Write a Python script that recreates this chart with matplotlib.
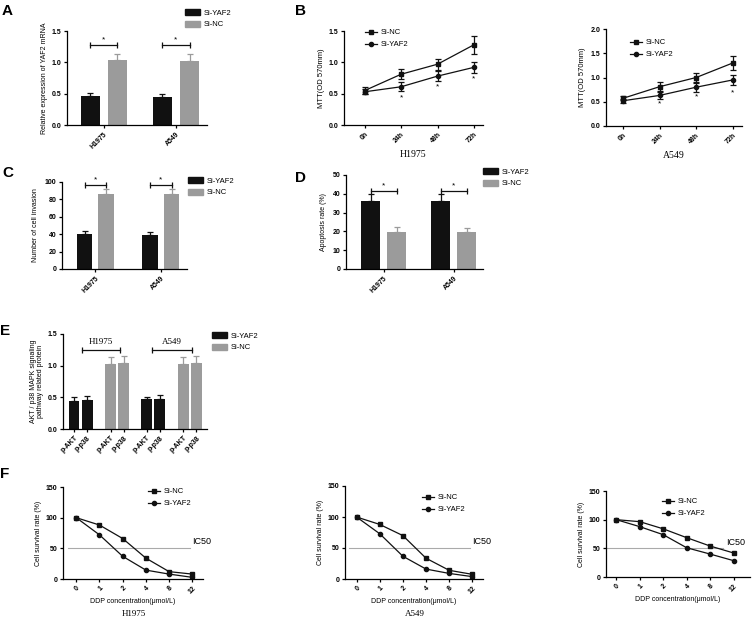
import numpy as np
import matplotlib
matplotlib.use("Agg")
import matplotlib.pyplot as plt
from matplotlib.patches import Patch
from matplotlib.lines import Line2D

plt.rcParams["font.family"] = ["Liberation Sans", "DejaVu Sans"]

W, H = 753, 621
BLACK = "#111111"
GREY = "#9b9b9b"
SERIF = ["Liberation Serif", "DejaVu Serif"]

cells = ["H1975", "A549"]

# A: YAF2 mRNA
mrna_yaf2 = [0.47, 0.45]
mrna_yaf2_err = [0.04, 0.04]
mrna_nc = [1.03, 1.02]
mrna_nc_err = [0.10, 0.11]

# B: MTT
hours = ["0h", "24h", "48h", "72h"]
mtt_h1975_nc = [0.55, 0.81, 0.97, 1.28]
mtt_h1975_nc_err = [0.05, 0.08, 0.09, 0.14]
mtt_h1975_yaf2 = [0.53, 0.61, 0.78, 0.92]
mtt_h1975_yaf2_err = [0.04, 0.07, 0.08, 0.09]
mtt_a549_nc = [0.57, 0.81, 1.00, 1.30]
mtt_a549_nc_err = [0.04, 0.09, 0.10, 0.14]
mtt_a549_yaf2 = [0.52, 0.63, 0.80, 0.95]
mtt_a549_yaf2_err = [0.04, 0.07, 0.09, 0.10]
star_h1975 = [0.43, 0.61, 0.73]
star_a549 = [0.45, 0.59, 0.68]

# C: invasion
inv_yaf2 = [39.7, 38.8]
inv_yaf2_err = [3.8, 4.2]
inv_nc = [86.0, 86.6]
inv_nc_err = [5.7, 5.7]

# D: apoptosis
apo_yaf2 = [36.0, 36.3]
apo_yaf2_err = [3.7, 3.5]
apo_nc = [19.9, 19.7]
apo_nc_err = [2.3, 2.3]

# E: AKT / p38
proteins = ["p-AKT", "p-p38"] * 4
prot_vals = [0.45, 0.46, 1.03, 1.04, 0.47, 0.48, 1.02, 1.04]
prot_err = [0.05, 0.06, 0.11, 0.12, 0.04, 0.06, 0.12, 0.11]
prot_black = [True, True, False, False, True, True, False, False]

# F: DDP survival
ddp = ["0", "1", "2", "4", "8", "12"]
surv_h1975_nc = [100, 88, 66, 34, 12, 8]
surv_h1975_yaf2 = [100, 72, 37, 14.5, 8, 2.7]
surv_a549_nc = [100, 88, 70, 33.5, 14, 7.5]
surv_a549_yaf2 = [100, 73, 36.7, 16, 9, 3.8]
surv_3_nc = [100, 96.5, 84, 68.6, 54, 41.9]
surv_3_yaf2 = [100, 87.8, 73.8, 51, 40, 28.5]

fig = plt.figure(figsize=(W / 100, H / 100), dpi=100)


def place(l, t, r, b):
    return fig.add_axes([l / W, 1 - b / H, (r - l) / W, (b - t) / H])


def style(ax):
    for s in ("top", "right"):
        ax.spines[s].set_visible(False)
    for s in ("left", "bottom"):
        ax.spines[s].set_linewidth(0.9)
    ax.tick_params(direction="out", length=2.5, width=0.9, labelsize=5, pad=1.5)
    for lab in ax.get_xticklabels() + ax.get_yticklabels():
        lab.set_fontweight("bold")


def rot_xticks(ax, labels, pos):
    ax.set_xticks(pos)
    ax.set_xticklabels(labels, rotation=45, ha="right", rotation_mode="anchor",
                       fontsize=5, fontweight="bold")


def bracket(ax, x1, x2, y, star=None, ys=None, clip=False):
    ax.plot([x1, x2], [y, y], color=BLACK, lw=0.9, clip_on=clip)
    ax.plot([x1, x2], [y, y], ls="none", marker="|", ms=4, mew=0.9, color=BLACK, clip_on=clip)
    if star:
        ax.text((x1 + x2) / 2, ys, star, ha="center", va="center", fontsize=6)


def fig_legend(handles, labels, x, y, hl=2.0, hh=0.9, spacing=0.5):
    fig.legend(handles, labels, loc="upper left", bbox_to_anchor=(x / W, 1 - y / H),
               bbox_transform=fig.transFigure, frameon=False, fontsize=5.5,
               borderpad=0, borderaxespad=0, handlelength=hl, handleheight=hh,
               labelspacing=spacing, handletextpad=0.4)


def grouped_bars(ax, ya, ea, yb, eb, off, width):
    x = np.arange(len(cells))
    ax.bar(x - off, ya, width, color=BLACK)
    ax.bar(x + off, yb, width, color=GREY)
    ax.errorbar(x - off, ya, yerr=[np.zeros(len(ya)), ea], fmt="none", ecolor=BLACK,
                elinewidth=0.9, capsize=2.5, capthick=0.9)
    ax.errorbar(x + off, yb, yerr=[np.zeros(len(yb)), eb], fmt="none", ecolor=GREY,
                elinewidth=0.9, capsize=2.5, capthick=0.9)
    rot_xticks(ax, cells, x)
    return x


bar_handles = [Patch(color=BLACK), Patch(color=GREY)]
bar_labels = ["Si-YAF2", "Si-NC"]

# ---- A
ax = place(67, 31, 207, 125)
x = grouped_bars(ax, mrna_yaf2, mrna_yaf2_err, mrna_nc, mrna_nc_err, 0.1875, 0.264)
ax.set_xlim(-0.51, 1.43)
ax.set_ylim(0, 1.5)
ax.set_yticks([0, 0.5, 1.0, 1.5])
ax.set_ylabel("Relative expression of YAF2 mRNA", fontsize=5, labelpad=3)
for xi in x:
    bracket(ax, xi - 0.1875, xi + 0.1875, 1.28, "*", 1.36)
style(ax)
fig_legend(bar_handles, bar_labels, 185, 9)

# ---- B
line_handles = [Line2D([], [], color=BLACK, lw=0.9, marker="s", ms=3),
                Line2D([], [], color=BLACK, lw=0.9, marker="o", ms=3)]


def mtt_panel(ax, nc, nce, ya, yae, stars, ymax, name):
    t = np.arange(len(hours))
    ax.errorbar(t, nc, yerr=nce, color=BLACK, lw=0.9, marker="s", ms=3,
                elinewidth=0.9, capsize=2, capthick=0.9)
    ax.errorbar(t, ya, yerr=yae, color=BLACK, lw=0.9, marker="o", ms=3,
                elinewidth=0.9, capsize=2, capthick=0.9)
    for ti, ys in zip(t[1:], stars):
        ax.text(ti, ys, "*", ha="center", va="center", fontsize=6)
    ax.set_ylim(0, ymax)
    ax.set_yticks(np.arange(0, ymax + 0.01, 0.5))
    ax.set_yticklabels([f"{v:.1f}" for v in np.arange(0, ymax + 0.01, 0.5)])
    rot_xticks(ax, hours, t)
    ax.set_ylabel("MTT(OD 570mm)", fontsize=5.5, labelpad=3)
    ax.set_xlabel(name, fontsize=7, family=SERIF, labelpad=4)
    style(ax)


ax = place(344, 31, 483, 125)
mtt_panel(ax, mtt_h1975_nc, mtt_h1975_nc_err, mtt_h1975_yaf2, mtt_h1975_yaf2_err,
          star_h1975, 1.5, "H1975")
ax.set_xlim(-0.57, 3.25)
fig_legend(line_handles, ["Si-NC", "Si-YAF2"], 365, 29, hl=1.6, hh=0.7, spacing=0.6)

ax = place(606, 29, 742, 126)
mtt_panel(ax, mtt_a549_nc, mtt_a549_nc_err, mtt_a549_yaf2, mtt_a549_yaf2_err,
          star_a549, 2.0, "A549")
ax.set_xlim(-0.46, 3.25)
fig_legend(line_handles, ["Si-NC", "Si-YAF2"], 630, 39, hl=1.6, hh=0.7, spacing=0.6)

# ---- C
ax = place(62, 182, 187, 269)
x = grouped_bars(ax, inv_yaf2, inv_yaf2_err, inv_nc, inv_nc_err, 0.165, 0.24)
ax.set_xlim(-0.51, 1.40)
ax.set_ylim(0, 100)
ax.set_yticks(range(0, 101, 20))
ax.set_ylabel("Number of cell invasion", fontsize=5, labelpad=4)
for xi in x:
    bracket(ax, xi - 0.165, xi + 0.165, 97, "*", 102.5, clip=False)
style(ax)
fig_legend(bar_handles, bar_labels, 188, 177)

# ---- D
ax = place(346, 175, 483, 269)
x = grouped_bars(ax, apo_yaf2, apo_yaf2_err, apo_nc, apo_nc_err, 0.188, 0.27)
ax.set_xlim(-0.54, 1.42)
ax.set_ylim(0, 50)
ax.set_yticks(range(0, 51, 10))
ax.set_ylabel("Apoptosis rate (%)", fontsize=5, labelpad=4)
for xi in x:
    bracket(ax, xi - 0.188, xi + 0.188, 41.7, "*", 44.3)
style(ax)
fig_legend(bar_handles, bar_labels, 483, 168)

# ---- E
ax = place(63, 334, 207, 429)
pos = np.array([0, 1, 2.75, 3.75, 5.45, 6.45, 8.2, 9.2])
cols = [BLACK if b else GREY for b in prot_black]
ax.bar(pos, prot_vals, 0.82, color=cols)
for p, v, e, c in zip(pos, prot_vals, prot_err, cols):
    ax.errorbar(p, v, yerr=[[0], [e]], fmt="none", ecolor=c, elinewidth=0.9,
                capsize=2.2, capthick=0.9)
rot_xticks(ax, proteins, pos)
ax.set_xlim(-0.83, 10.0)
ax.set_ylim(0, 1.5)
ax.set_yticks([0, 0.5, 1.0, 1.5])
ax.set_ylabel("AKT / p38 MAPK signaling\npathway related protein", fontsize=5,
              labelpad=3, linespacing=1.0)
bracket(ax, 0.58, 3.46, 1.25)
bracket(ax, 5.84, 8.85, 1.25)
ax.text(2.02, 1.38, "H1975", ha="center", va="center", fontsize=6.5, family=SERIF)
ax.text(7.35, 1.38, "A549", ha="center", va="center", fontsize=6.5, family=SERIF)
style(ax)
fig_legend(bar_handles, bar_labels, 212, 332)

# ---- F


def surv_panel(ax, nc, ya, ic_x, xlim, name, name_x, leg):
    d = np.arange(len(ddp))
    ax.plot(ic_x, [50, 50], color="#aaaaaa", lw=0.8)
    ax.text(ic_x[1] + 0.1, 61, "IC50", fontsize=6.5, ha="left", va="center")
    ax.plot(d, nc, color=BLACK, lw=0.9, marker="s", ms=3)
    ax.plot(d, ya, color=BLACK, lw=0.9, marker="o", ms=3)
    ax.set_xlim(*xlim)
    ax.set_ylim(0, 150)
    ax.set_yticks([0, 50, 100, 150])
    rot_xticks(ax, ddp, d)
    ax.set_ylabel("Cell survival rate (%)", fontsize=5, labelpad=3)
    ax.set_xlabel("DDP concentration(μmol/L)", fontsize=5, labelpad=2)
    if name:
        fig.text(name_x / W, 1 - 614.5 / H, name, ha="center", va="center",
                 fontsize=6.5, family=SERIF)
    style(ax)
    fig_legend(line_handles, ["Si-NC", "Si-YAF2"], leg[0], leg[1], hl=1.6, hh=0.7,
               spacing=0.6)


ax = place(63, 487, 203, 579)
surv_panel(ax, surv_h1975_nc, surv_h1975_yaf2, [-0.36, 4.89], (-0.57, 5.46), "H1975",
           134, (148, 488))
ax = place(345, 486, 483, 579)
surv_panel(ax, surv_a549_nc, surv_a549_yaf2, [-0.31, 4.9], (-0.5, 5.46), "A549",
           415, (422, 494))
ax = place(606, 491, 750, 577)
surv_panel(ax, surv_3_nc, surv_3_yaf2, [-0.4, 4.57], (-0.44, 5.7), None, 0, (662, 498))

# panel letters
for letter, lx, ly in [("A", 2, 4), ("B", 295, 4), ("C", 2, 166), ("D", 295, 171),
                       ("E", 0, 324), ("F", 0, 467)]:
    fig.text(lx / W, 1 - ly / H, letter, fontsize=11, fontweight="bold", ha="left", va="top")

fig.savefig("out.png", dpi=100)
